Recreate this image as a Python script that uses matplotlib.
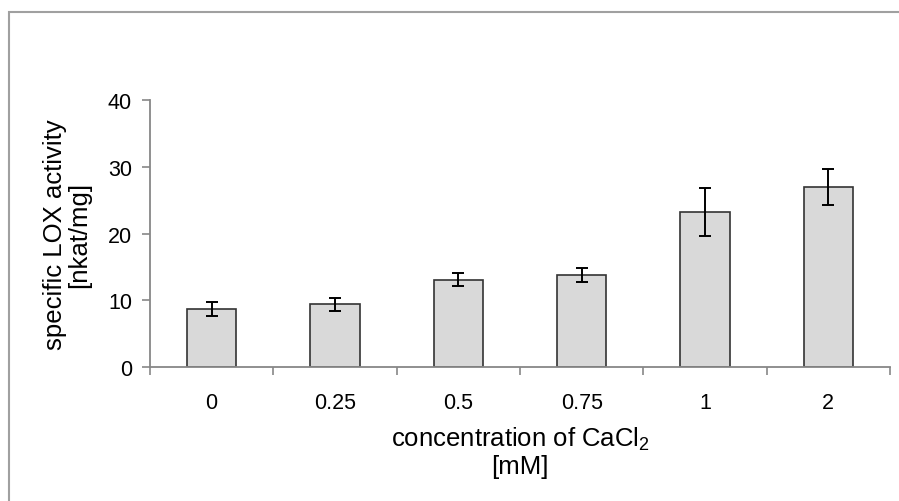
import numpy as np
import matplotlib
matplotlib.use('Agg')
import matplotlib.pyplot as plt
from matplotlib.patches import Rectangle

# data
concentrations = ['0', '0.25', '0.5', '0.75', '1', '2']
activity = [8.7, 9.4, 13.1, 13.8, 23.3, 27.0]
errors = [1.05, 0.95, 1.0, 1.0, 3.6, 2.7]

plt.rcParams['font.family'] = ['Liberation Sans', 'DejaVu Sans']
plt.rcParams['mathtext.default'] = 'regular'

fig = plt.figure(figsize=(8.99, 5.02), dpi=100)
ax = fig.add_axes([150 / 899, 1 - 368.3 / 502, 740 / 899, 267.3 / 502])

x = np.arange(len(concentrations))
ax.bar(x, activity, width=0.4, color='#d9d9d9', edgecolor='#333333', linewidth=1.2, zorder=2)
ax.errorbar(x, activity, yerr=errors, fmt='none', ecolor='black', elinewidth=1.4,
            capsize=4, capthick=1.4, zorder=3)

ax.set_xlim(-0.5, len(concentrations) - 0.5)
ax.set_ylim(0, 40)
ax.set_yticks([0, 10, 20, 30, 40])

# labels at bar centres, tick marks at category boundaries
ax.set_xticks(x)
ax.set_xticklabels(concentrations)
ax.set_xticks(np.arange(len(concentrations) + 1) - 0.5, minor=True)
ax.tick_params(axis='x', which='major', length=0, pad=18, labelsize=15.5)
ax.tick_params(axis='x', which='minor', length=6, width=1.2, color='#878787')
ax.tick_params(axis='y', length=6, width=1.2, color='#878787', labelsize=15.5, pad=7)

for side in ['top', 'right']:
    ax.spines[side].set_visible(False)
for side in ['left', 'bottom']:
    ax.spines[side].set_color('#878787')
    ax.spines[side].set_linewidth(1.3)

ax.set_xlabel('concentration of CaCl$_2$\n[mM]', fontsize=18.5, labelpad=8, linespacing=1.15)
ax.set_ylabel('specific LOX activity\n[nkat/mg]', fontsize=18.5, labelpad=12, linespacing=1.0)

# chart frame (only top and left edge visible in the crop)
fig.patches.append(Rectangle((9 / 899, -0.1), 1.2, 1.1 - 13 / 502, transform=fig.transFigure,
                             fill=False, edgecolor='#a0a0a0', linewidth=1.5))

fig.savefig('out.png', dpi=100)
